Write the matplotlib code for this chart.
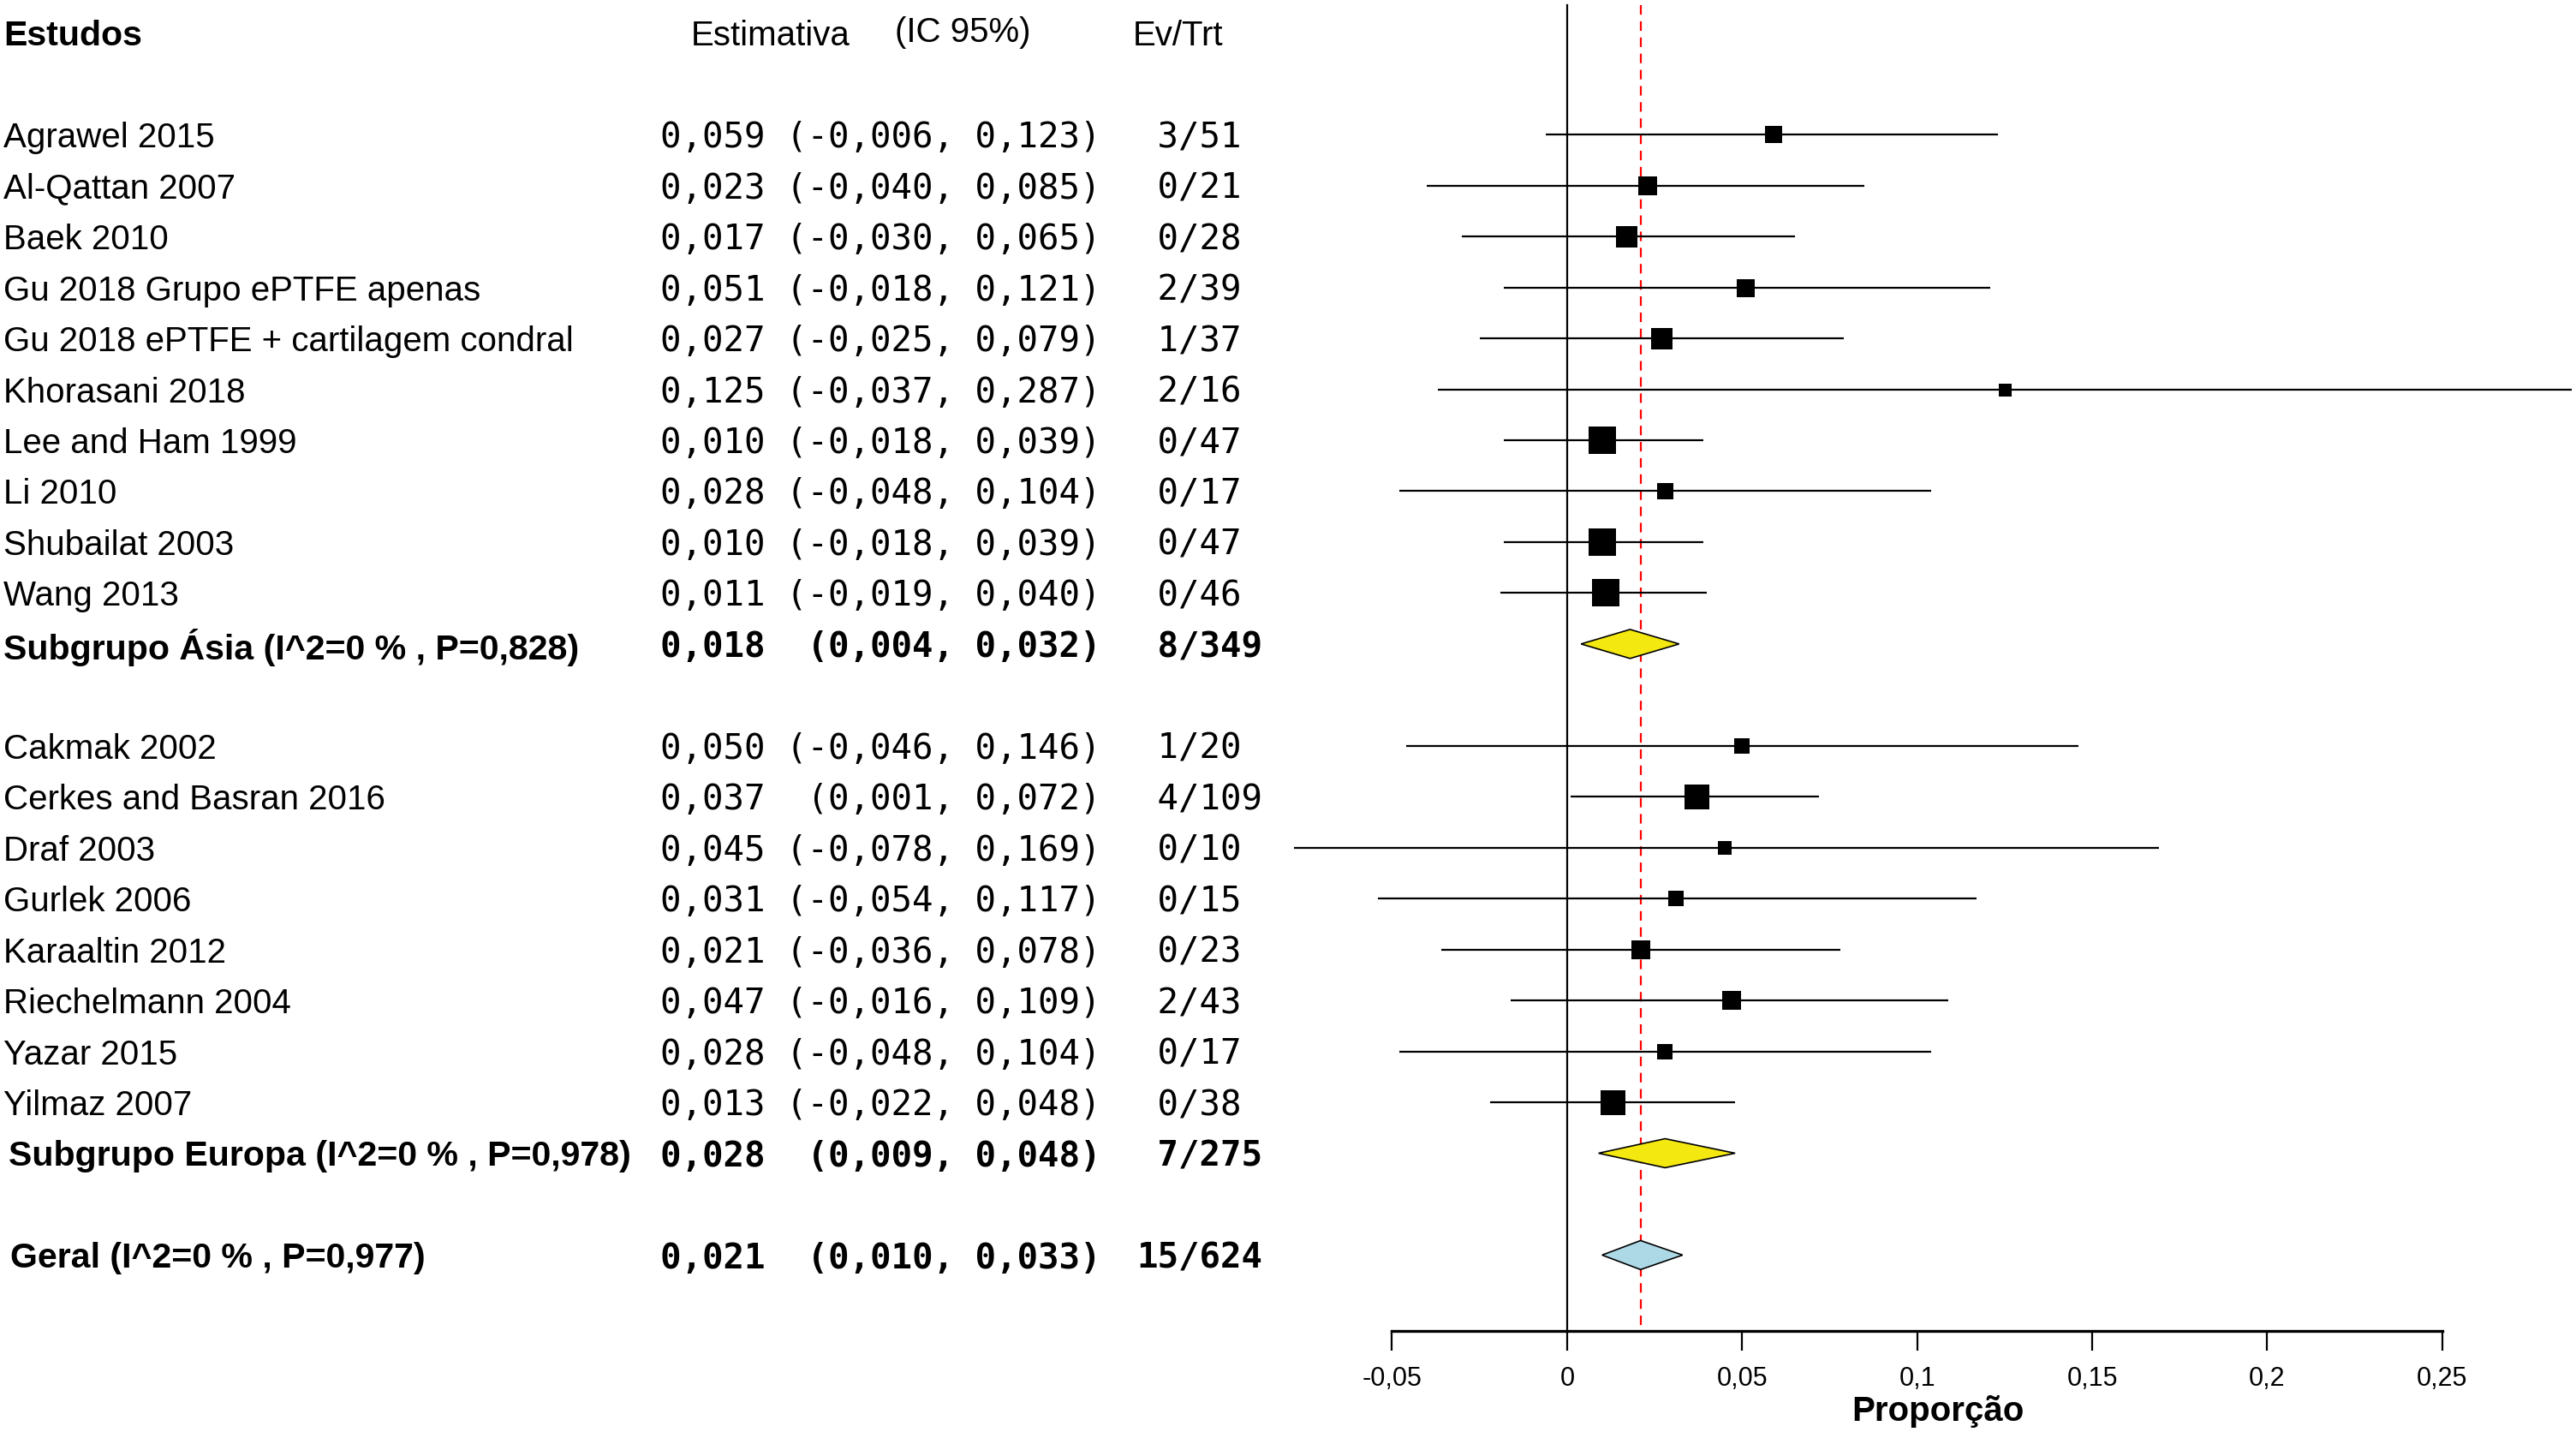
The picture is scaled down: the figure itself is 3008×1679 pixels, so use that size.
import numpy as np
import matplotlib
matplotlib.use("Agg")
import matplotlib.pyplot as plt
from matplotlib import transforms
from matplotlib.patches import Polygon

# Asia subgroup
asia_names = ["Agrawel 2015", "Al-Qattan 2007", "Baek 2010", "Gu 2018 Grupo ePTFE apenas",
              "Gu 2018 ePTFE + cartilagem condral", "Khorasani 2018", "Lee and Ham 1999",
              "Li 2010", "Shubailat 2003", "Wang 2013"]
asia_est = [0.059, 0.023, 0.017, 0.051, 0.027, 0.125, 0.010, 0.028, 0.010, 0.011]
asia_lo = [-0.006, -0.040, -0.030, -0.018, -0.025, -0.037, -0.018, -0.048, -0.018, -0.019]
asia_hi = [0.123, 0.085, 0.065, 0.121, 0.079, 0.287, 0.039, 0.104, 0.039, 0.040]
asia_ev = [3, 0, 0, 2, 1, 2, 0, 0, 0, 0]
asia_n = [51, 21, 28, 39, 37, 16, 47, 17, 47, 46]

# Europe subgroup
eur_names = ["Cakmak 2002", "Cerkes and Basran 2016", "Draf 2003", "Gurlek 2006",
             "Karaaltin 2012", "Riechelmann 2004", "Yazar 2015", "Yilmaz 2007"]
eur_est = [0.050, 0.037, 0.045, 0.031, 0.021, 0.047, 0.028, 0.013]
eur_lo = [-0.046, 0.001, -0.078, -0.054, -0.036, -0.016, -0.048, -0.022]
eur_hi = [0.146, 0.072, 0.169, 0.117, 0.078, 0.109, 0.104, 0.048]
eur_ev = [1, 4, 0, 0, 0, 2, 0, 0]
eur_n = [20, 109, 10, 15, 23, 43, 17, 38]

# pooled rows: subgroup Asia, subgroup Europe, overall
pool_names = ["Subgrupo Ásia (I^2=0 % , P=0,828)", "Subgrupo Europa (I^2=0 % , P=0,978)",
              "Geral (I^2=0 % , P=0,977)"]
pool_est = [0.018, 0.028, 0.021]
pool_lo = [0.004, 0.009, 0.010]
pool_hi = [0.032, 0.048, 0.033]
pool_ev = [8, 7, 15]
pool_n = [349, 275, 624]

tick_vals = [-0.05, 0, 0.05, 0.1, 0.15, 0.2, 0.25]
tick_labels = ["-0,05", "0", "0,05", "0,1", "0,15", "0,2", "0,25"]

# box side in pixels (study weight)
asia_box = [20, 22, 25, 21, 25, 15, 32, 19, 32, 32]
eur_box = [18, 29, 16, 18, 22, 22, 18, 29]

SANS = "Liberation Sans"
MONO = "DejaVu Sans Mono"
FS = 29
FS_MONO = 29.3
FS_BOLD = 29.6


def fmt(v):
    return f"{v:.3f}".replace(".", ",")


def stat_text(e, lo, hi):
    return fmt(e) + " " + ("(" + fmt(lo) + ",").rjust(8) + " " + fmt(hi) + ")"


def evtrt(ev, n):
    return f"{ev:>2}/{n}"


fig = plt.figure(figsize=(30.08, 16.79), dpi=100)
ax = fig.add_axes([0.492, 0.07445, 0.508, 0.92555])
ax.set_xlim(-0.0856, 0.2882)
ax.set_ylim(23.49, -2.645)

tr = transforms.blended_transform_factory(fig.transFigure, ax.transData)
tr = transforms.offset_copy(tr, fig=fig, y=-4, units="dots")
x_lab = 4 / 3008
x_num = 771 / 3008
x_ev = 1327 / 3008

# row layout
asia_rows = list(range(0, 10))
eur_rows = list(range(12, 20))
pool_rows = [10, 20, 22]
pool_x = [4 / 3008, 10 / 3008, 12 / 3008]
pool_col = ["#F4E811", "#F4E811", "#ADD8E6"]

# reference lines
ax.plot([0, 0], [-2.55, 23.49], color="black", lw=1.6, clip_on=False)
ax.plot([pool_est[2], pool_est[2]], [-2.55, 23.49], color="red", lw=1.6,
        dashes=(5, 3.5), clip_on=False)

# headers
ax.text(x_lab, -2, "Estudos", transform=tr, fontsize=FS_BOLD, fontfamily=SANS,
        fontweight="bold", va="center", ha="left")
ax.text(807 / 3008, -2, "Estimativa", transform=tr, fontsize=FS, fontfamily=SANS,
        va="center", ha="left")
ax.text(1045 / 3008, -2.08, "(IC 95%)", transform=tr, fontsize=FS, fontfamily=SANS,
        va="center", ha="left")
ax.text(1323 / 3008, -2, "Ev/Trt", transform=tr, fontsize=FS, fontfamily=SANS,
        va="center", ha="left")

# studies
for names, est, lo, hi, ev, n, rows, box in [
        (asia_names, asia_est, asia_lo, asia_hi, asia_ev, asia_n, asia_rows, asia_box),
        (eur_names, eur_est, eur_lo, eur_hi, eur_ev, eur_n, eur_rows, eur_box)]:
    for i, r in enumerate(rows):
        ax.plot([lo[i], hi[i]], [r, r], color="black", lw=1.6, clip_on=False,
                solid_capstyle="butt")
        ax.scatter([est[i]], [r], marker="s", s=(box[i] * 0.72) ** 2, color="black",
                   linewidths=0, zorder=3, clip_on=False)
        ax.text(x_lab, r, names[i], transform=tr, fontsize=FS, fontfamily=SANS,
                va="center", ha="left")
        ax.text(x_num, r, stat_text(est[i], lo[i], hi[i]), transform=tr, fontsize=FS_MONO,
                fontfamily=MONO, va="center", ha="left")
        ax.text(x_ev, r, evtrt(ev[i], n[i]), transform=tr, fontsize=FS_MONO,
                fontfamily=MONO, va="center", ha="left")

# pooled diamonds
for i, r in enumerate(pool_rows):
    h = 0.285
    poly = Polygon([[pool_lo[i], r], [pool_est[i], r - h], [pool_hi[i], r],
                    [pool_est[i], r + h]], closed=True, facecolor=pool_col[i],
                   edgecolor="black", lw=1.2, zorder=3)
    ax.add_patch(poly)
    ax.text(pool_x[i], r, pool_names[i], transform=tr, fontsize=FS_BOLD, fontfamily=SANS,
            fontweight="bold", va="center", ha="left")
    ax.text(x_num, r, stat_text(pool_est[i], pool_lo[i], pool_hi[i]), transform=tr,
            fontsize=FS_MONO, fontfamily=MONO, fontweight="bold", va="center", ha="left")
    ax.text(x_ev, r, evtrt(pool_ev[i], pool_n[i]), transform=tr, fontsize=FS_MONO,
            fontfamily=MONO, fontweight="bold", va="center", ha="left")

# axis
for s in ["top", "left", "right"]:
    ax.spines[s].set_visible(False)
ax.spines["bottom"].set_bounds(-0.05, 0.25)
ax.spines["bottom"].set_linewidth(2.4)
ax.set_yticks([])
ax.set_xticks(tick_vals)
ax.set_xticklabels(tick_labels, fontsize=22, fontfamily=SANS)
ax.tick_params(axis="x", length=16.5, width=1.6, pad=13)
ax.set_xlabel("Proporção", fontsize=29, fontfamily=SANS, fontweight="bold")
ax.xaxis.set_label_coords((2263 - 1480) / 1528, -0.048)

fig.savefig("out.png", dpi=100)
